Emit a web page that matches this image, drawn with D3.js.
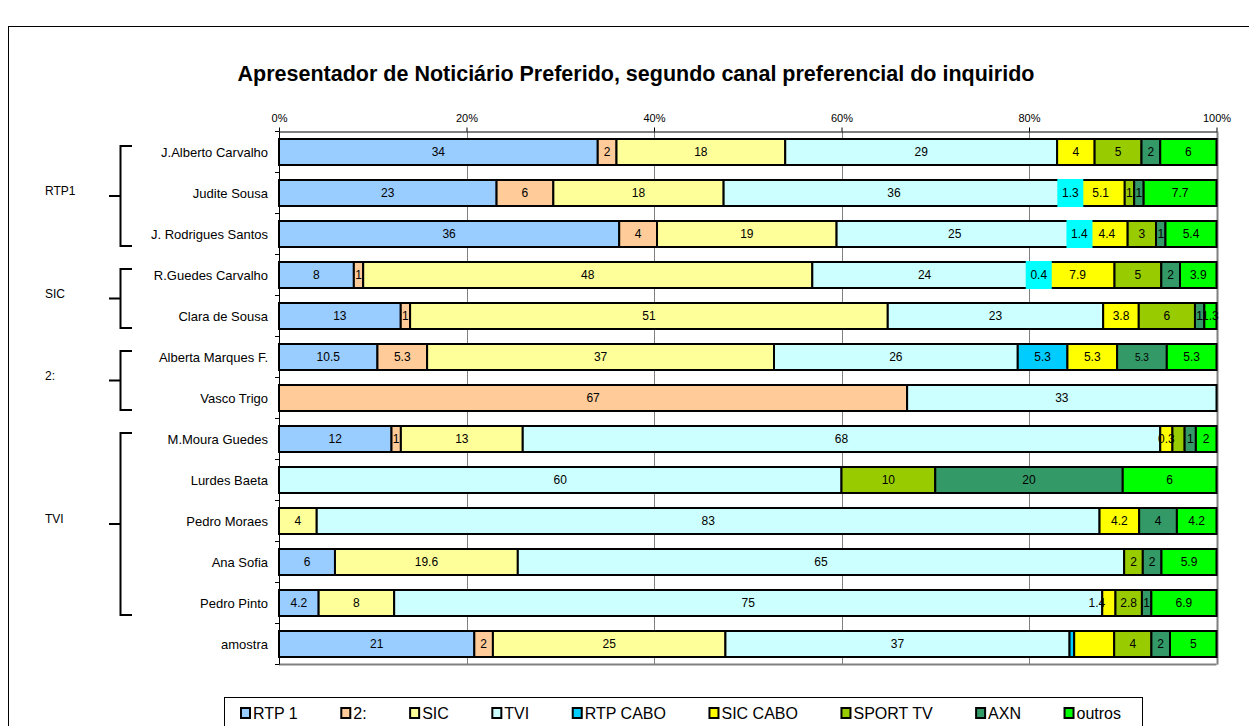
<!DOCTYPE html>
<html><head><meta charset="utf-8">
<script src="https://cdn.jsdelivr.net/npm/d3@7"></script>
<style>
body{margin:0;background:#fff;}
svg text{font-family:"Liberation Sans",Arial,sans-serif;}
</style></head>
<body><svg id="c" width="1249" height="726"></svg>
<script>
const categories = ["J.Alberto Carvalho","Judite Sousa","J. Rodrigues Santos","R.Guedes Carvalho","Clara de Sousa","Alberta Marques F.","Vasco Trigo","M.Moura Guedes","Lurdes Baeta","Pedro Moraes","Ana Sofia","Pedro Pinto","amostra"];
const seriesNames = ["RTP 1","2:","SIC","TVI","RTP CABO","SIC CABO","SPORT TV","AXN","outros"];
const rtp1    = [34,23,36,8,13,10.5,0,12,0,0,6,4.2,21];
const dois    = [2,6,4,1,1,5.3,67,1,0,0,0,0,2];
const sic     = [18,18,19,48,51,37,0,13,0,4,19.6,8,25];
const tvi     = [29,36,25,24,23,26,33,68,60,83,65,75,37];
const rtpCabo = [0,1.3,1.4,0.4,0,5.3,0,0,0,0,0,0,0.5];
const sicCabo = [4,5.1,4.4,7.9,3.8,5.3,0,1.3,0,4.2,0,1.4,4.3];
const sportTv = [5,1,3,5,6,0,0,1.3,10,0,2,2.8,4];
const axn     = [2,1,1,2,1,5.3,0,1.2,20,4,2,1,2];
const outros  = [6,7.7,5.4,3.9,1.3,5.3,0,2.2,10,4.2,5.9,6.9,5];
// label text that differs from the drawn value: [row, series, text]
const labelOverrides = [[7,5,"0.3"],[7,6,""],[7,7,"1"],[7,8,"2"],[8,8,"6"],[12,4,""],[12,5,""]];
const groups = [{name:"RTP1",first:0,last:2},{name:"SIC",first:3,last:4},{name:"2:",first:5,last:6},{name:"TVI",first:7,last:11}];
const tickValues = [0,0.2,0.4,0.6,0.8,1];
const colors = ["#99CCFF","#FFCC99","#FFFF99","#CCFFFF","#00CCFF","#FFFF00","#99CC00","#339966","#00FF00"];
const title = "Apresentador de Noticiário Preferido, segundo canal preferencial do inquirido";

const seriesValues = [rtp1,dois,sic,tvi,rtpCabo,sicCabo,sportTv,axn,outros];
const svg = d3.select("#c");

// outer frame
svg.append("rect").attr("x",8.5).attr("y",26.5).attr("width",1260).attr("height",720)
  .attr("fill","none").attr("stroke","#000").attr("stroke-width",1);

const L=279, R=1216.5, T=131.5, B=664.5;
const x = d3.scaleLinear().domain([0,1]).range([L,R]);
const y = d3.scaleBand().domain(categories).range([T,B]).paddingInner(0.366).paddingOuter(0.183);

svg.append("text").attr("x",636).attr("y",81).attr("text-anchor","middle")
  .attr("font-size",21.5).attr("font-weight","bold").text(title);

// gridlines
svg.append("g").selectAll("line").data(tickValues.slice(1)).join("line")
  .attr("x1",d=>Math.round(x(d))+0.5).attr("x2",d=>Math.round(x(d))+0.5)
  .attr("y1",T).attr("y2",B).attr("stroke","#808080").attr("stroke-width",1);
svg.append("line").attr("x1",L).attr("x2",R).attr("y1",B).attr("y2",B).attr("stroke","#808080").attr("stroke-width",2);
svg.append("line").attr("x1",Math.round(R)+0.5).attr("x2",Math.round(R)+0.5).attr("y1",T).attr("y2",B).attr("stroke","#808080").attr("stroke-width",2);

// top axis
const ax = svg.append("g").attr("transform",`translate(0,${T})`)
  .call(d3.axisTop(x).tickValues(tickValues).tickFormat(d3.format(".0%")).tickSize(4).tickPadding(6).tickSizeOuter(0));
ax.select(".domain").attr("stroke","#000");
ax.selectAll("text").attr("font-size",11).attr("font-family","'Liberation Sans',Arial,sans-serif");

// left axis line and ticks at band boundaries
svg.append("line").attr("x1",L+0.5).attr("x2",L+0.5).attr("y1",T).attr("y2",B).attr("stroke","#000");
const bounds = categories.map(c=>y(c)-y.step()*y.paddingInner()/2).concat([B]);
svg.append("g").selectAll("line").data(bounds).join("line")
  .attr("x1",L-4).attr("x2",L).attr("y1",d=>d).attr("y2",d=>d).attr("stroke","#000");

// category labels
svg.append("g").selectAll("text").data(categories).join("text")
  .attr("x",268).attr("y",d=>y(d)+y.bandwidth()/2).attr("dy","0.35em")
  .attr("text-anchor","end").attr("font-size",13).text(d=>d);

// stacked segments
const segs=[];
categories.forEach((c,i)=>{
  const tot = d3.sum(seriesValues,s=>s[i]);
  let acc=0;
  seriesValues.forEach((s,j)=>{
    const v=s[i];
    if(v>0){
      const ov = labelOverrides.find(o=>o[0]===i&&o[1]===j);
      segs.push({cat:c,row:i,ser:j,v,x0:acc/tot,x1:(acc+v)/tot,label:ov?ov[2]:String(v)});
    }
    acc+=v;
  });
});
svg.append("g").selectAll("rect").data(segs).join("rect")
  .attr("x",d=>x(d.x0)).attr("width",d=>x(d.x1)-x(d.x0))
  .attr("y",d=>y(d.cat)).attr("height",y.bandwidth())
  .attr("fill",d=>colors[d.ser]).attr("stroke","#000").attr("stroke-width",2);

// label backgrounds for narrow RTP CABO segments
const bgSegs = segs.filter(d=>d.ser===4 && d.label!=="" && (x(d.x1)-x(d.x0))<20);
svg.append("g").selectAll("rect").data(bgSegs).join("rect")
  .attr("x",d=>(x(d.x0)+x(d.x1))/2-13).attr("width",26)
  .attr("y",d=>y(d.cat)-1).attr("height",y.bandwidth()+2).attr("fill","#00FFFF");

svg.append("g").selectAll("text").data(segs.filter(d=>d.label!=="")).join("text")
  .attr("x",d=>(x(d.x0)+x(d.x1))/2 - ((d.row===11&&d.ser===5)?12:0))
  .attr("y",d=>y(d.cat)+y.bandwidth()/2).attr("dy","0.35em")
  .attr("text-anchor","middle").attr("font-size",d=>(d.row===5&&d.ser===7)?10:12).text(d=>d.label);

// group brackets
const gg = svg.append("g");
groups.forEach(g=>{
  const top = y(categories[g.first])+y.bandwidth()/2-6;
  const bot = y(categories[g.last])+y.bandwidth()/2+12;
  const mid = (top+bot)/2;
  gg.append("path").attr("d",`M132,${top}H120.5V${bot}H132M109,${mid}H120.5`)
    .attr("fill","none").attr("stroke","#000").attr("stroke-width",2);
  gg.append("text").attr("x",45).attr("y",mid-5).attr("dy","0.35em").attr("font-size",12).text(g.name);
});

// legend
const lg = svg.append("g");
lg.append("rect").attr("x",224.5).attr("y",697.5).attr("width",918).attr("height",40)
  .attr("fill","#fff").attr("stroke","#000");
const items = seriesNames.map((n,j)=>{
  const sw = lg.append("rect").attr("y",708).attr("width",9).attr("height",10)
    .attr("fill",colors[j]).attr("stroke","#000").attr("stroke-width",2);
  const t = lg.append("text").attr("y",713).attr("dy","0.35em").attr("font-size",16).text(n);
  return {sw,t,w:t.node().getComputedTextLength()};
});
const startX = 241, endX = 1121;
const gap = (endX - startX - d3.sum(items,d=>12+d.w))/(items.length-1);
let lx = startX;
items.forEach(it=>{
  it.sw.attr("x",lx); it.t.attr("x",lx+12);
  lx += 12 + it.w + gap;
});
</script></body></html>
